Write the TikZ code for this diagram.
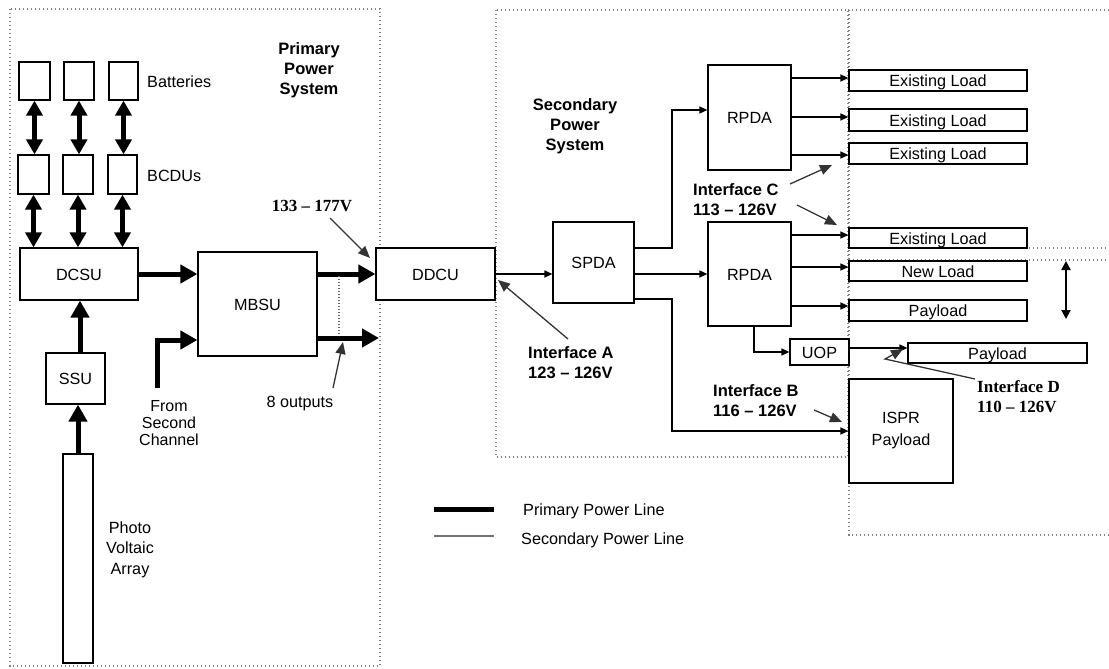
\documentclass[tikz,border=0pt]{standalone}
\usepackage{fontspec}
\setmainfont{Liberation Sans}
\newfontfamily\serifb{Liberation Serif}
\usetikzlibrary{arrows.meta}
\begin{document}
\begin{tikzpicture}[x=1pt,y=-1pt,
  frame/.style={draw=black!50, line width=1.4pt, dash pattern=on 1.4pt off 2.6pt},
  boxbase/.style={draw, line width=1.2pt, fill=white, inner sep=0pt, font=\fontsize{16.2}{22}\selectfont},
  box/.style={boxbase, text height=12pt, text depth=0pt},
  lbl/.style={inner sep=0pt, align=center, font=\fontsize{16.2}{19}\selectfont},
  blbl/.style={inner sep=0pt, align=left, font=\bfseries\fontsize{16.5}{20}\selectfont},
  sblbl/.style={inner sep=0pt, align=left, font=\serifb\bfseries\fontsize{17}{20}\selectfont},
  prim/.style={line width=5pt, -{Triangle[length=17pt,width=18pt]}},
  primd/.style={line width=5pt, {Triangle[length=15pt,width=16pt]}-{Triangle[length=15pt,width=16pt]}},
  primline/.style={line width=5pt},
  sec/.style={line width=1.4pt, -{Triangle[length=8pt,width=7pt]}},
  note/.style={line width=1.3pt, draw=black!80, -{Triangle[length=12pt,width=10pt]}}
]
\useasboundingbox (0,0) rectangle (1109,669);

% dotted region frames
\draw[frame] (10,9) rectangle (380,666);
\draw[frame] (496,10) rectangle (848,457);
\draw[frame] (848,10) -- (1109,10);
\draw[frame] (849,10) -- (849,535) -- (1109,535);
\draw[frame] (849,248) -- (1109,248);
\draw[frame] (849,260) -- (1109,260);

% primary power system boxes
\node[box, minimum width=31pt, minimum height=38pt] (bat1) at (34.5,81) {};
\node[box, minimum width=30pt, minimum height=38pt] (bat2) at (79,81) {};
\node[box, minimum width=29pt, minimum height=38pt] (bat3) at (123.5,81) {};
\node[box, minimum width=31pt, minimum height=39pt] (bcdu1) at (33.5,174.5) {};
\node[box, minimum width=30pt, minimum height=39pt] (bcdu2) at (78,174.5) {};
\node[box, minimum width=29pt, minimum height=39pt] (bcdu3) at (122.5,174.5) {};
\node[box, minimum width=118pt, minimum height=52pt] (dcsu) at (79,274) {DCSU};
\node[box, minimum width=59pt, minimum height=51pt] (ssu) at (75.5,378.5) {SSU};
\node[box, minimum width=30pt, minimum height=209pt] (pv) at (78,558.5) {};
\node[box, minimum width=119pt, minimum height=104pt] (mbsu) at (257.5,304) {MBSU};
\node[box, minimum width=119pt, minimum height=52pt] (ddcu) at (435.5,274) {DDCU};

% secondary power system boxes
\node[box, minimum width=81pt, minimum height=81pt] (spda) at (593.5,262.5) {SPDA};
\node[box, minimum width=83pt, minimum height=105pt] (rpda1) at (749.5,117.5) {RPDA};
\node[box, minimum width=83pt, minimum height=104pt] (rpda2) at (749.5,274) {RPDA};
\node[box, minimum width=178pt, minimum height=21pt] (el1) at (938,80.5) {Existing Load};
\node[box, minimum width=178pt, minimum height=22pt] (el2) at (938,120) {Existing Load};
\node[box, minimum width=178pt, minimum height=21pt] (el3) at (938,153.5) {Existing Load};
\node[box, minimum width=178pt, minimum height=20pt] (el4) at (938,238) {Existing Load};
\node[box, minimum width=178pt, minimum height=20pt] (nl) at (938,271) {New Load};
\node[box, minimum width=178pt, minimum height=21pt] (pl1) at (938,310.5) {Payload};
\node[box, minimum width=59pt, minimum height=26pt] (uop) at (819.5,352) {UOP};
\node[box, minimum width=179pt, minimum height=20pt] (pl2) at (997.5,353) {Payload};
\node[boxbase, align=center, minimum width=104pt, minimum height=104pt] (ispr) at (901,431) {ISPR\\Payload};

% labels
\node[lbl, anchor=west] (batl) at (147,82) {Batteries};
\node[lbl, anchor=west] (bcdul) at (147,176) {BCDUs};
\node[blbl, align=center] (pps) at (309,70) {Primary\\Power\\System};
\node[blbl, align=center] (sps) at (575,126) {Secondary\\Power\\System};
\node[sblbl] (v133) at (312,206) {133 – 177V};
\node[lbl, font=\fontsize{16}{17}\selectfont] (fsc) at (169,423) {From\\Second\\Channel};
\node[lbl, font=\fontsize{16.2}{20.5}\selectfont] (pvl) at (130,549.5) {Photo\\Voltaic\\Array};
\node[lbl] (outs) at (300,404) {8 outputs};
\node[blbl, anchor=west] (ifa) at (528,363) {Interface A\\123 – 126V};
\node[blbl, anchor=west] (ifc) at (693,199.5) {Interface C\\113 – 126V};
\node[blbl, anchor=west] (ifb) at (713,400.5) {Interface B\\116 – 126V};
\node[sblbl, anchor=west] (ifd) at (977,397) {Interface D\\110 – 126V};

% primary power connectors
\draw[primd] (bat1.south) -- (bat1.south |- bcdu1.north);
\draw[primd] (bat2.south) -- (bat2.south |- bcdu2.north);
\draw[primd] (bat3.south) -- (bat3.south |- bcdu3.north);
\draw[primd] (bcdu1.south) -- (bcdu1.south |- dcsu.north);
\draw[primd] (bcdu2.south) -- (bcdu2.south |- dcsu.north);
\draw[primd] (bcdu3.south) -- (bcdu3.south |- dcsu.north);
\draw[prim] (dcsu.east) -- (mbsu.west |- dcsu.east);
\draw[prim] (ssu.north -| 80,0) -- (dcsu.south -| 80,0);
\draw[prim] (pv.north) -- (pv.north |- ssu.south);
\coordinate (fscs) at (157,388);
\draw[prim] (fscs) |- (mbsu.west |- 0,340);
\draw[prim] (mbsu.east |- ddcu.west) -- (ddcu.west);
\coordinate (out2) at (379,338);
\draw[prim] (mbsu.east |- out2) -- (out2);
\draw[black!60, line width=1.3pt, dash pattern=on 1.3pt off 1.7pt] (339,276) -- (339,336);

% secondary power connectors
\draw[sec] (ddcu.east) -- (spda.west |- ddcu.east);
\draw[sec] (spda.east |- 0,248) -| (672,110) -- (rpda1.west |- 0,110);
\draw[sec] (spda.east |- rpda2.west) -- (rpda2.west);
\draw[sec] (spda.east |- 0,299) -| (672,431) -- (ispr.west |- 0,431);
\draw[sec] (rpda1.east |- 0,78) -- (el1.west |- 0,78);
\draw[sec] (rpda1.east |- 0,117) -- (el2.west |- 0,117);
\draw[sec] (rpda1.east |- 0,155) -- (el3.west |- 0,155);
\draw[sec] (rpda2.east |- 0,235) -- (el4.west |- 0,235);
\draw[sec] (rpda2.east |- 0,267) -- (nl.west |- 0,267);
\draw[sec] (rpda2.east |- 0,306) -- (pl1.west |- 0,306);
\draw[sec] (rpda2.south -| 754,0) |- (uop.west);
\draw[sec] (uop.east |- 0,348) -- (pl2.west |- 0,348);
\draw[line width=2pt, {Triangle[length=9pt,width=9pt]}-{Triangle[length=9pt,width=9pt]}] (1066,261) -- (1066,319);

% annotation arrows
\draw[note] (330,218) -- (370,258);
\draw[note] (333,388) -- (343,342);
\draw[note] (568,339) -- (498,280);
\draw[note] (790,184) -- (832,165);
\draw[note] (797,205) -- (837,225);
\draw[note] (814,410) -- (842,422);
\draw[note] (975,379) -- (885,359) -- (903,349);

% legend
\coordinate (lg1a) at (434,509); \coordinate (lg1b) at (494,509);
\coordinate (lg2a) at (434,536); \coordinate (lg2b) at (494,536);
\draw[primline] (lg1a) -- (lg1b);
\draw[black!55, line width=1.5pt] (lg2a) -- (lg2b);
\node[lbl, anchor=west] (lgp) at (523,511) {Primary Power Line};
\node[lbl, anchor=west] (lgs) at (521,540) {Secondary Power Line};
\end{tikzpicture}
\end{document}
